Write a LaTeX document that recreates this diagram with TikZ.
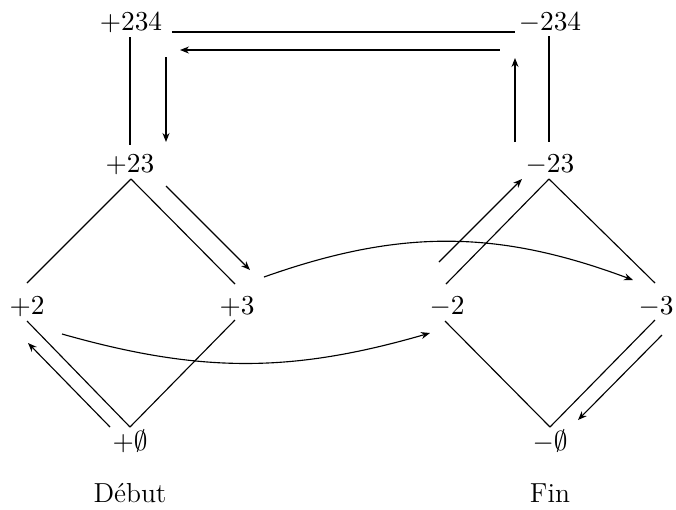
\documentclass[tikz,border=0pt]{standalone}
\usetikzlibrary{arrows.meta}
\begin{document}
\begin{tikzpicture}[x=0.4pt,y=0.4pt,
  lbl/.style={inner sep=0pt, anchor=base, font=\fontsize{11}{13}\selectfont},
  edge/.style={line width=0.45pt},
  arr/.style={line width=0.45pt, -{Stealth[length=3.6pt,width=2.8pt]}}]
\useasboundingbox (0,0) rectangle (676,-509);
% nodes (base positions)
\node[lbl] (p234) at (131,-30) {$+234$};
\node[lbl] (m234) at (550,-30) {$-234$};
\node[lbl] (p23) at (130,-172) {$+23$};
\node[lbl] (m23) at (550,-172) {$-23$};
\node[lbl] (p2) at (27,-314) {$+2$};
\node[lbl] (p3) at (237,-314) {$+3$};
\node[lbl] (m2) at (447,-314) {$-2$};
\node[lbl] (m3) at (656,-314) {$-3$};
\node[lbl] (p0) at (130,-450) {$+\emptyset$};
\node[lbl] (m0) at (550,-450) {$-\emptyset$};
\node[lbl] (deb) at (130,-502) {Début};
\node[lbl] (fin) at (550,-502) {Fin};
% plain edges
\draw[edge] ([shift={(41,-2)}]p234.base) -- ([shift={(-35,-2)}]m234.base);
\draw[edge] ([shift={(-1,-7)}]p234.base) -- ([shift={(0,27)}]p23.base);
\draw[edge] ([shift={(-1,-6)}]m234.base) -- ([shift={(-1,30)}]m23.base);
\draw[edge] ([shift={(1,-7)}]p23.base) -- ([shift={(0,31)}]p2.base);
\draw[edge] ([shift={(1,-7)}]p23.base) -- ([shift={(-2,30)}]p3.base);
\draw[edge] ([shift={(0,-7)}]p2.base) -- ([shift={(0,23)}]p0.base);
\draw[edge] ([shift={(-2,-6)}]p3.base) -- ([shift={(0,23)}]p0.base);
\draw[edge] ([shift={(-1,-7)}]m23.base) -- ([shift={(-1,30)}]m2.base);
\draw[edge] ([shift={(-1,-7)}]m23.base) -- ([shift={(-1,31)}]m3.base);
\draw[edge] ([shift={(-2,-7)}]m2.base) -- ([shift={(0,23)}]m0.base);
\draw[edge] ([shift={(-1,-6)}]m3.base) -- ([shift={(0,23)}]m0.base);
% arrows
\draw[arr] ([shift={(-50,-20)}]m234.base) -- ([shift={(49,-20)}]p234.base);
\draw[arr] ([shift={(35,-27)}]p234.base) -- ([shift={(36,30)}]p23.base);
\draw[arr] ([shift={(-35,30)}]m23.base) -- ([shift={(-35,-28)}]m234.base);
\draw[arr] ([shift={(36,-14)}]p23.base) -- ([shift={(13,44)}]p3.base);
\draw[arr] ([shift={(-20,23)}]p0.base) -- ([shift={(1,-29)}]p2.base);
\draw[arr] ([shift={(-8,52)}]m2.base) -- ([shift={(-28,-7)}]m23.base);
\draw[arr] ([shift={(6,-21)}]m3.base) -- ([shift={(28,30)}]m0.base);
\draw[arr] ([shift={(35,-20)}]p2.base) to[bend right=16] ([shift={(-17,-19)}]m2.base);
\draw[arr] ([shift={(27,37)}]p3.base) to[bend left=20] ([shift={(-23,34)}]m3.base);
\end{tikzpicture}
\end{document}
